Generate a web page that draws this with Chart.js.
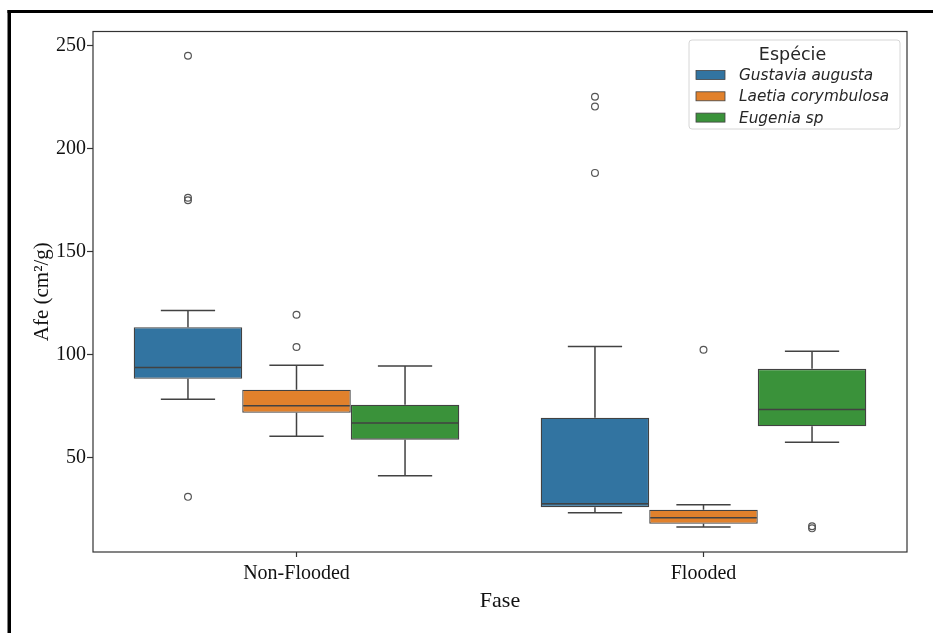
<!DOCTYPE html>
<html><head><meta charset="utf-8">
<script src="https://cdn.jsdelivr.net/npm/chart.js@4/dist/chart.umd.min.js"></script>
<style>html,body{margin:0;padding:0;background:#fff}#wrap{width:933px;height:633px;position:relative}</style>
</head><body><div id="wrap"><canvas id="c" width="933" height="633"></canvas></div>
<script>
// ---- data ----
const phases = ['Non-Flooded', 'Flooded'];
const species = ['Gustavia augusta', 'Laetia corymbulosa', 'Eugenia sp'];
const speciesColors = ['#3274a1', '#e1812c', '#3a923a'];
const yTicks = [50, 100, 150, 200, 250];

// values per phase: [Non-Flooded, Flooded]
const gustaviaQ1 = [88.3, 25.9];
const gustaviaMedian = [93.8, 27.5];
const gustaviaQ3 = [113.3, 69.3];
const gustaviaLow = [78.3, 23.2];
const gustaviaHigh = [121.4, 104.0];
const gustaviaOutliers = [[245.2, 176.2, 175.0, 30.9], [225.3, 220.5, 188.3]];

const laetiaQ1 = [71.7, 17.8];
const laetiaMedian = [75.2, 20.7];
const laetiaQ3 = [82.9, 24.6];
const laetiaLow = [60.3, 16.2];
const laetiaHigh = [94.8, 27.0];
const laetiaOutliers = [[119.4, 103.7], [102.4]];

const eugeniaQ1 = [58.7, 65.2];
const eugeniaMedian = [66.8, 73.3];
const eugeniaQ3 = [75.7, 93.1];
const eugeniaLow = [41.1, 57.4];
const eugeniaHigh = [94.5, 101.6];
const eugeniaOutliers = [[], [16.6, 15.6]];

const stats = [
  {q1: gustaviaQ1, med: gustaviaMedian, q3: gustaviaQ3, lo: gustaviaLow, hi: gustaviaHigh, out: gustaviaOutliers},
  {q1: laetiaQ1, med: laetiaMedian, q3: laetiaQ3, lo: laetiaLow, hi: laetiaHigh, out: laetiaOutliers},
  {q1: eugeniaQ1, med: eugeniaMedian, q3: eugeniaQ3, lo: eugeniaLow, hi: eugeniaHigh, out: eugeniaOutliers}
];

const LINE = '#424242';
const SERIF = '"Liberation Serif", "Times New Roman", serif';
const SANS = '"DejaVu Sans", sans-serif';

const bgPlugin = {
  id: 'bg',
  beforeDraw(chart) {
    const ctx = chart.ctx;
    ctx.save();
    ctx.fillStyle = '#fff';
    ctx.fillRect(0, 0, chart.width, chart.height);
    ctx.fillStyle = '#000';
    ctx.fillRect(7.5, 10, chart.width, 3);
    ctx.fillRect(7.5, 10, 3.5, chart.height);
    ctx.restore();
  }
};

const boxPlugin = {
  id: 'boxExtras',
  afterDatasetsDraw(chart) {
    const ctx = chart.ctx, ys = chart.scales.y;
    const P = v => ys.getPixelForValue(v);
    chart.data.datasets.forEach((ds, i) => {
      const meta = chart.getDatasetMeta(i);
      const st = stats[i];
      meta.data.forEach((bar, j) => {
        const {x, width} = bar.getProps(['x', 'width'], true);
        const hw = width / 2, cw = width / 4;
        ctx.save();
        ctx.strokeStyle = LINE;
        ctx.lineWidth = 1.5;
        ctx.beginPath();
        // median
        ctx.moveTo(x - hw + 1, P(st.med[j])); ctx.lineTo(x + hw - 1, P(st.med[j]));
        // whiskers
        ctx.moveTo(x, P(st.q3[j])); ctx.lineTo(x, P(st.hi[j]));
        ctx.moveTo(x, P(st.q1[j])); ctx.lineTo(x, P(st.lo[j]));
        // caps
        ctx.moveTo(x - cw, P(st.hi[j])); ctx.lineTo(x + cw, P(st.hi[j]));
        ctx.moveTo(x - cw, P(st.lo[j])); ctx.lineTo(x + cw, P(st.lo[j]));
        ctx.stroke();
        // outliers
        ctx.strokeStyle = '#555';
        ctx.lineWidth = 1.2;
        st.out[j].forEach(v => {
          ctx.beginPath();
          ctx.arc(x, P(v), 3.4, 0, Math.PI * 2);
          ctx.stroke();
        });
        ctx.restore();
      });
    });
  }
};

const frameLegendPlugin = {
  id: 'frameLegend',
  afterDraw(chart) {
    const ctx = chart.ctx, a = chart.chartArea;
    ctx.save();
    ctx.strokeStyle = '#333';
    ctx.lineWidth = 1.2;
    ctx.strokeRect(a.left, a.top, a.right - a.left, a.bottom - a.top);
    // legend
    const lx = 689, ly = 40, lw = 211, lh = 89;
    ctx.beginPath();
    if (ctx.roundRect) ctx.roundRect(lx, ly, lw, lh, 3); else ctx.rect(lx, ly, lw, lh);
    ctx.fillStyle = 'rgba(255,255,255,0.8)';
    ctx.fill();
    ctx.strokeStyle = '#d6d6d6';
    ctx.lineWidth = 1;
    ctx.stroke();
    ctx.fillStyle = '#262626';
    ctx.textAlign = 'center';
    ctx.textBaseline = 'alphabetic';
    ctx.font = '17.5px ' + SANS;
    ctx.fillText('Espécie', 792.5, 60);
    ctx.textAlign = 'left';
    ctx.textBaseline = 'middle';
    ctx.font = 'italic 15.3px ' + SANS;
    chart.data.datasets.forEach((ds, i) => {
      const cy = 75 + i * 21.3;
      ctx.fillStyle = ds.backgroundColor;
      ctx.fillRect(696, cy - 4.5, 29, 9);
      ctx.strokeStyle = LINE;
      ctx.lineWidth = 0.8;
      ctx.strokeRect(696, cy - 4.5, 29, 9);
      ctx.fillStyle = '#262626';
      ctx.fillText(ds.label, 739, cy + 1);
    });
    ctx.restore();
  }
};

const datasets = species.map((name, i) => ({
  label: name,
  data: phases.map((_, j) => [stats[i].q1[j], stats[i].q3[j]]),
  backgroundColor: speciesColors[i],
  borderColor: LINE,
  borderWidth: 1.3,
  borderSkipped: false,
  categoryPercentage: 0.8,
  barPercentage: 1.0
}));

new Chart(document.getElementById('c'), {
  type: 'bar',
  data: {labels: phases, datasets},
  plugins: [bgPlugin, boxPlugin, frameLegendPlugin],
  options: {
    responsive: false,
    animation: false,
    devicePixelRatio: 1,
    layout: {padding: {left: 0, top: 31.5, right: 26, bottom: 0}},
    plugins: {legend: {display: false}, tooltip: {enabled: false}},
    scales: {
      x: {
        type: 'category',
        offset: true,
        afterFit: s => { s.height = 81; },
        grid: {offset: false, drawOnChartArea: false, tickLength: 5, tickColor: '#333', tickWidth: 1.2},
        border: {display: false},
        ticks: {font: {family: SERIF, size: 20}, color: '#111', padding: 5},
        title: {display: true, text: 'Fase', font: {family: SERIF, size: 22}, color: '#111', padding: {top: 0, bottom: 18.8}}
      },
      y: {
        type: 'linear',
        min: 4.1,
        max: 257,
        afterFit: s => { s.width = 93; },
        afterBuildTicks: s => { s.ticks = yTicks.map(v => ({value: v})); },
        grid: {drawOnChartArea: false, tickLength: 6, tickColor: '#333', tickWidth: 1.2},
        border: {display: false},
        ticks: {font: {family: SERIF, size: 20}, color: '#111', padding: 1},
        title: {display: true, text: 'Afe (cm²/g)', font: {family: SERIF, size: 21}, color: '#111', padding: {top: 29.4, bottom: 0}}
      }
    }
  }
});
</script>
</body></html>
